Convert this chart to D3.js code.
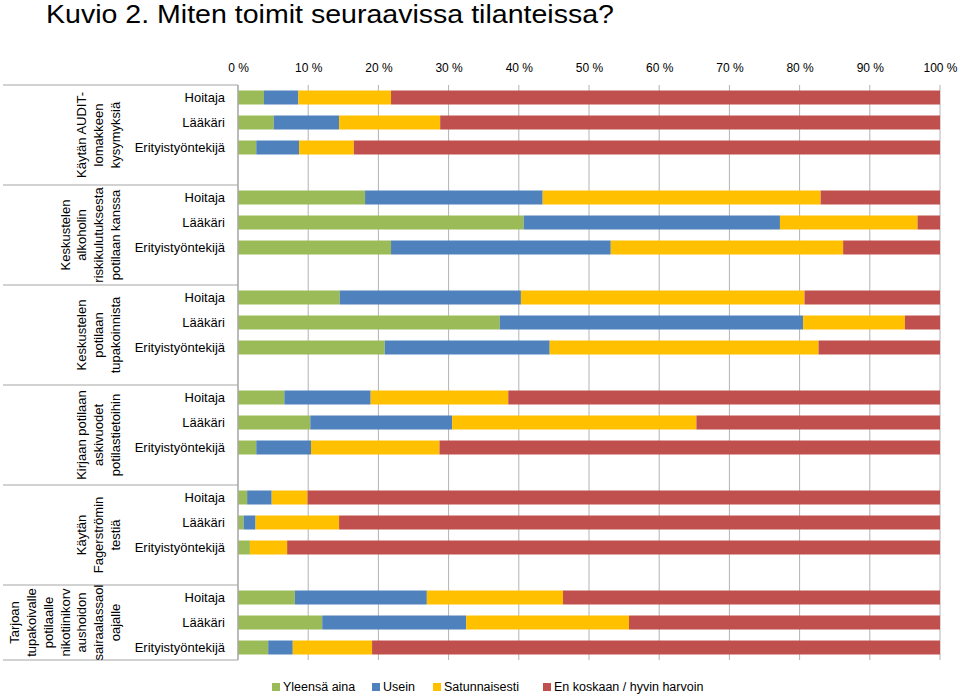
<!DOCTYPE html>
<html>
<head>
<meta charset="utf-8">
<script src="https://cdn.jsdelivr.net/npm/d3@7"></script>
<style>
  html, body { margin: 0; padding: 0; background: #ffffff; }
  svg { display: block; font-family: "Liberation Sans", Arial, sans-serif; }
</style>
</head>
<body>
<svg id="chart" width="960" height="696"></svg>
<script>
// ---- Data ----
const title = "Kuvio 2. Miten toimit seuraavissa tilanteissa?";
const groupLabels = [
  ["Käytän AUDIT-", "lomakkeen", "kysymyksiä"],
  ["Keskustelen", "alkoholin", "riskikulutuksesta", "potilaan kanssa"],
  ["Keskustelen", "potilaan", "tupakoinnista"],
  ["Kirjaan potilaan", "askivuodet", "potilastietoihin"],
  ["Käytän", "Fagerströmin", "testiä"],
  ["Tarjoan", "tupakoivalle", "potilaalle", "nikotiinikorv", "aushoidon", "sairaalassaol", "oajalle"]
];
const roles = ["Hoitaja", "Lääkäri", "Erityistyöntekijä"];
const seriesNames = ["Yleensä aina", "Usein", "Satunnaisesti", "En koskaan / hyvin harvoin"];
const seriesColors = ["#9BBB59", "#4F81BD", "#FFC000", "#C0504D"];
// values per group, per role: [Yleensä aina, Usein, Satunnaisesti, En koskaan]
const yleensaAina = [
  [3.7, 5.1, 2.6], [18.1, 40.7, 21.8], [14.5, 37.3, 20.9],
  [6.6, 10.3, 2.6], [1.3, 0.8, 1.7], [8.1, 12.0, 4.3]
];
const usein = [
  [4.9, 9.3, 6.1], [25.3, 36.5, 31.3], [25.8, 43.2, 23.5],
  [12.3, 20.2, 7.8], [3.5, 1.7, 0.0], [18.8, 20.5, 3.5]
];
const satunnaisesti = [
  [13.2, 14.4, 7.8], [39.6, 19.6, 33.1], [40.4, 14.5, 38.3],
  [19.6, 34.8, 18.3], [5.1, 11.9, 5.3], [19.4, 23.2, 11.3]
];
const enKoskaan = [
  [78.2, 71.2, 83.5], [17.0, 3.2, 13.8], [19.3, 5.0, 17.3],
  [61.5, 34.7, 71.3], [90.1, 85.6, 93.0], [53.7, 44.3, 80.9]
];
const xTicks = [0, 10, 20, 30, 40, 50, 60, 70, 80, 90, 100];

(function () {
// ---- Build rows ----
const seriesArrays = [yleensaAina, usein, satunnaisesti, enKoskaan];
const rows = [];
const slots = [];
groupLabels.forEach((g, gi) => {
  roles.forEach((r, ri) => {
    const key = gi + "-" + ri;
    const vals = seriesArrays.map(a => a[gi][ri]);
    rows.push({ key, group: gi, role: r, vals });
    slots.push(key);
  });
  slots.push(gi + "-gap");
});

const svg = d3.select("#chart");
const plotLeft = 238, plotRight = 940, plotTop = 85;
const x = d3.scaleLinear().domain([0, 100]).range([plotLeft, plotRight]);
const y = d3.scaleBand().domain(slots).range([plotTop, plotTop + 25 * slots.length])
  .paddingInner(0.44).paddingOuter(0.22);
const step = y.step();
const plotBottom = plotTop + step * (slots.length - 1);

// Title
svg.append("text")
  .attr("x", 46).attr("y", 23)
  .attr("font-size", 26)
  .attr("textLength", 568)
  .attr("lengthAdjust", "spacingAndGlyphs")
  .attr("fill", "#000")
  .text(title);

// Gridlines
svg.append("g").selectAll("line").data(xTicks).join("line")
  .attr("x1", d => x(d)).attr("x2", d => x(d))
  .attr("y1", plotTop).attr("y2", plotBottom)
  .attr("stroke", "#b3b3b3").attr("stroke-width", 1);

// Top axis labels
const axis = d3.axisTop(x).tickValues(xTicks).tickSize(0).tickPadding(13)
  .tickFormat(d => d + " %");
const ag = svg.append("g").attr("transform", `translate(0,${plotTop})`).call(axis);
ag.select(".domain").remove();
ag.selectAll("text").attr("font-size", 12).attr("fill", "#000")
  .attr("font-family", "'Liberation Sans', Arial, sans-serif");

// Bars
const stackData = rows.map(r => {
  let acc = 0;
  return r.vals.map((v, i) => { const s = { key: r.key, i, x0: acc, x1: acc + v }; acc += v; return s; });
}).flat();
svg.append("g").selectAll("rect").data(stackData).join("rect")
  .attr("x", d => x(d.x0))
  .attr("width", d => Math.max(0, x(d.x1) - x(d.x0)))
  .attr("y", d => y(d.key))
  .attr("height", y.bandwidth())
  .attr("fill", d => seriesColors[d.i]);

// Vertical axis line and group separators
const sepColor = "#a6a6a6";
svg.append("line")
  .attr("x1", plotLeft).attr("x2", plotLeft).attr("y1", plotTop).attr("y2", plotBottom)
  .attr("stroke", sepColor).attr("stroke-width", 1.2);
const sepYs = groupLabels.map((g, gi) => plotTop + gi * 4 * step).concat([plotBottom]);
svg.append("g").selectAll("line").data(sepYs).join("line")
  .attr("x1", 3).attr("x2", plotLeft).attr("y1", d => d).attr("y2", d => d)
  .attr("stroke", sepColor).attr("stroke-width", 1.2);

// Role labels
svg.append("g").selectAll("text").data(rows).join("text")
  .attr("x", 225)
  .attr("y", d => y(d.key) + y.bandwidth() / 2)
  .attr("dy", "0.35em")
  .attr("text-anchor", "end")
  .attr("font-size", 13)
  .attr("fill", "#000")
  .text(d => d.role);

// Group labels (rotated)
groupLabels.forEach((lines, gi) => {
  const gTop = plotTop + gi * 4 * step;
  const gBot = gi === groupLabels.length - 1 ? plotBottom : gTop + 4 * step;
  const cy = (gTop + gBot) / 2;
  const n = lines.length;
  const lastX = 120, lh = 16.8;
  lines.forEach((ln, li) => {
    const bx = lastX - (n - 1 - li) * lh;
    svg.append("text")
      .attr("transform", `translate(${bx},${cy}) rotate(-90)`)
      .attr("text-anchor", "middle")
      .attr("font-size", 13)
      .attr("fill", "#000")
      .text(ln);
  });
});

// Legend
const legendXs = [272, 372, 433, 543];
const lg = svg.append("g");
seriesNames.forEach((name, i) => {
  lg.append("rect")
    .attr("x", legendXs[i]).attr("y", 683)
    .attr("width", 8).attr("height", 8)
    .attr("fill", seriesColors[i]);
  lg.append("text")
    .attr("x", legendXs[i] + 11).attr("y", 687)
    .attr("dy", "0.35em")
    .attr("font-size", 12.5)
    .attr("fill", "#000")
    .text(name);
});
})();
</script>
</body>
</html>
